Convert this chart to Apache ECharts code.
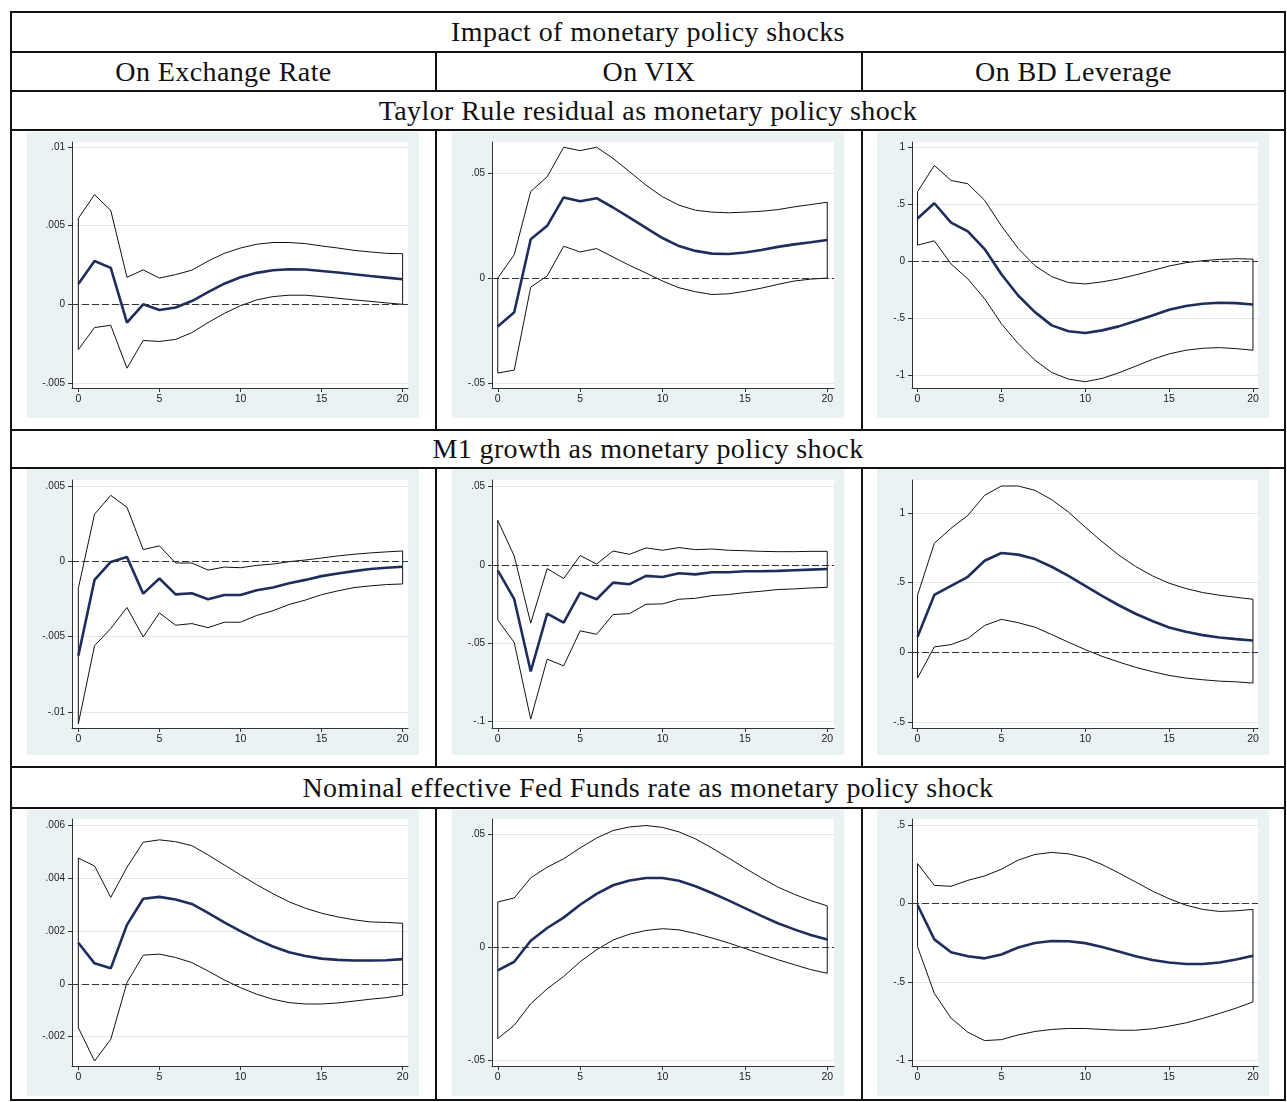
<!DOCTYPE html>
<html>
<head>
<meta charset="utf-8">
<title>Impact of monetary policy shocks</title>
<script src="https://cdn.jsdelivr.net/npm/echarts@6/dist/echarts.min.js"></script>
<style>
    html, body { margin: 0; padding: 0; background: #fff; }
    #page { position: relative; width: 1287px; height: 1102px; overflow: hidden; }
    .hl { position: absolute; height: 2px; background: #111; }
    .vl { position: absolute; width: 2px; background: #111; }
    .cap {
        position: absolute;
        text-align: center;
        font-family: "Liberation Serif", "Times New Roman", serif;
        font-size: 28px;
        letter-spacing: 0.4px;
        color: #111;
        white-space: nowrap;
    }
    .irf { position: absolute; width: 392px; height: 286px; }
</style>
</head>
<body>
<div id="page">
    <!-- table rules -->
    <div class="hl" style="left:10px; top:11px; width:1276px;"></div>
    <div class="hl" style="left:10px; top:51px; width:1276px;"></div>
    <div class="hl" style="left:10px; top:90px; width:1276px;"></div>
    <div class="hl" style="left:10px; top:129px; width:1276px;"></div>
    <div class="hl" style="left:10px; top:429px; width:1276px;"></div>
    <div class="hl" style="left:10px; top:467px; width:1276px;"></div>
    <div class="hl" style="left:10px; top:766px; width:1276px;"></div>
    <div class="hl" style="left:10px; top:807px; width:1276px;"></div>
    <div class="hl" style="left:10px; top:1099px; width:1276px;"></div>
    <div class="vl" style="left:10px; top:11px; height:1090px;"></div>
    <div class="vl" style="left:1284px; top:11px; height:1090px;"></div>

    <div class="vl" style="left:435px; top:51px; height:41px;"></div>
    <div class="vl" style="left:861px; top:51px; height:41px;"></div>
    <div class="vl" style="left:435px; top:129px; height:302px;"></div>
    <div class="vl" style="left:861px; top:129px; height:302px;"></div>
    <div class="vl" style="left:435px; top:467px; height:301px;"></div>
    <div class="vl" style="left:861px; top:467px; height:301px;"></div>
    <div class="vl" style="left:435px; top:807px; height:294px;"></div>
    <div class="vl" style="left:861px; top:807px; height:294px;"></div>

    <!-- captions -->
    <div class="cap" style="left:12px; top:13px; width:1272px; height:38px; line-height:38px;">Impact of monetary policy shocks</div>
    <div class="cap" style="left:12px; top:53px; width:423px; height:37px; line-height:37px;">On Exchange Rate</div>
    <div class="cap" style="left:437px; top:53px; width:424px; height:37px; line-height:37px;">On VIX</div>
    <div class="cap" style="left:863px; top:53px; width:421px; height:37px; line-height:37px;">On BD Leverage</div>
    <div class="cap" style="left:12px; top:92px; width:1272px; height:37px; line-height:37px;">Taylor Rule residual as monetary policy shock</div>
    <div class="cap" style="left:12px; top:431px; width:1272px; height:36px; line-height:36px;">M1 growth as monetary policy shock</div>
    <div class="cap" style="left:12px; top:768px; width:1272px; height:39px; line-height:39px;">Nominal effective Fed Funds rate as monetary policy shock</div>

    <!-- impulse response panels -->
    <div id="p11" class="irf" style="left:27px; top:132px;"></div>
    <div id="p12" class="irf" style="left:452px; top:132px;"></div>
    <div id="p13" class="irf" style="left:877px; top:132px;"></div>
    <div id="p21" class="irf" style="left:27px; top:469px;"></div>
    <div id="p22" class="irf" style="left:452px; top:469px;"></div>
    <div id="p23" class="irf" style="left:877px; top:469px;"></div>
    <div id="p31" class="irf" style="left:27px; top:810px;"></div>
    <div id="p32" class="irf" style="left:452px; top:810px;"></div>
    <div id="p33" class="irf" style="left:877px; top:810px;"></div>
</div>

<script>
    // horizon (steps) and x tick labels
    const horizon = [0, 1, 2, 3, 4, 5, 6, 7, 8, 9, 10, 11, 12, 13, 14, 15, 16, 17, 18, 19, 20];
    const xTicks = [0, 5, 10, 15, 20];

    // Taylor rule residual shock
    const taylorFxIrf = [0.00129, 0.00275, 0.00232, -0.00116, 0.0, -0.00036, -0.0002, 0.00021, 0.00077, 0.00131, 0.00172, 0.002, 0.00217, 0.00223, 0.00221, 0.00212, 0.00202, 0.00191, 0.0018, 0.0017, 0.00159];
    const taylorFxUpper = [0.00547, 0.00697, 0.00597, 0.00172, 0.00219, 0.00167, 0.00189, 0.00217, 0.00275, 0.00324, 0.00358, 0.00382, 0.00393, 0.00393, 0.00386, 0.00371, 0.00358, 0.00343, 0.00333, 0.00324, 0.00322];
    const taylorFxLower = [-0.00288, -0.00148, -0.00133, -0.00406, -0.0023, -0.00236, -0.00223, -0.0018, -0.00116, -0.00058, -0.00009, 0.00028, 0.00049, 0.00058, 0.00058, 0.00049, 0.00039, 0.00028, 0.00019, 0.00009, 0.0];
    const taylorFxTicks = [-0.005, 0, 0.005, 0.01];

    const taylorVixIrf = [-0.023, -0.0162, 0.0184, 0.0248, 0.0383, 0.0365, 0.0379, 0.0335, 0.0287, 0.0238, 0.019, 0.0152, 0.0129, 0.0116, 0.0114, 0.0121, 0.0133, 0.0148, 0.016, 0.017, 0.0181];
    const taylorVixUpper = [0.0, 0.0111, 0.0411, 0.0481, 0.0621, 0.0605, 0.0621, 0.0568, 0.0505, 0.0441, 0.0386, 0.0346, 0.0322, 0.0313, 0.031, 0.0313, 0.0317, 0.0325, 0.0338, 0.0349, 0.036];
    const taylorVixLower = [-0.0451, -0.0437, -0.0043, 0.001, 0.0151, 0.0124, 0.014, 0.01, 0.006, 0.0024, -0.0014, -0.0046, -0.0065, -0.0078, -0.0075, -0.0063, -0.0048, -0.003, -0.0014, -0.0005, 0.0];
    const taylorVixTicks = [-0.05, 0, 0.05];

    const taylorLevIrf = [0.375, 0.509, 0.34, 0.262, 0.108, -0.113, -0.299, -0.445, -0.561, -0.613, -0.628, -0.605, -0.57, -0.523, -0.474, -0.424, -0.392, -0.372, -0.363, -0.366, -0.378];
    const taylorLevUpper = [0.61, 0.84, 0.709, 0.68, 0.535, 0.311, 0.113, -0.038, -0.134, -0.186, -0.198, -0.18, -0.154, -0.119, -0.081, -0.041, -0.012, 0.006, 0.017, 0.023, 0.02];
    const taylorLevLower = [0.142, 0.18, -0.023, -0.154, -0.328, -0.547, -0.721, -0.866, -0.974, -1.032, -1.055, -1.026, -0.977, -0.919, -0.86, -0.811, -0.779, -0.762, -0.756, -0.765, -0.779];
    const taylorLevTicks = [-1, -0.5, 0, 0.5, 1];

    // M1 growth shock
    const m1FxIrf = [-0.00627, -0.00123, -0.00004, 0.00029, -0.00214, -0.00114, -0.00219, -0.00212, -0.00252, -0.00223, -0.00223, -0.00192, -0.00174, -0.00145, -0.00123, -0.00098, -0.0008, -0.00065, -0.00051, -0.00042, -0.00036];
    const m1FxUpper = [-0.00179, 0.00313, 0.00438, 0.00359, 0.00078, 0.00103, -0.00011, -0.00011, -0.00058, -0.00038, -0.00042, -0.00027, -0.00018, -0.00002, 0.00009, 0.00022, 0.00036, 0.00047, 0.00056, 0.00063, 0.00069];
    const m1FxLower = [-0.01078, -0.0056, -0.00446, -0.00306, -0.00502, -0.00342, -0.00424, -0.00413, -0.0044, -0.00404, -0.00404, -0.00359, -0.00328, -0.00286, -0.00257, -0.00221, -0.00196, -0.00174, -0.00163, -0.00154, -0.0015];
    const m1FxTicks = [-0.01, -0.005, 0, 0.005];

    const m1VixIrf = [-0.0034, -0.0219, -0.0681, -0.0311, -0.0368, -0.0177, -0.0219, -0.0113, -0.0123, -0.007, -0.0077, -0.0053, -0.006, -0.0047, -0.0047, -0.004, -0.004, -0.0038, -0.0034, -0.003, -0.0026];
    const m1VixUpper = [0.0285, 0.0057, -0.0372, -0.0023, -0.0087, 0.006, 0.0006, 0.0089, 0.0068, 0.0109, 0.0094, 0.0111, 0.0098, 0.0102, 0.0094, 0.0091, 0.0087, 0.0085, 0.0085, 0.0087, 0.0087];
    const m1VixLower = [-0.0351, -0.0496, -0.0985, -0.0602, -0.0645, -0.0421, -0.0443, -0.0317, -0.0311, -0.0251, -0.0249, -0.0219, -0.0213, -0.0196, -0.0189, -0.0177, -0.0168, -0.0157, -0.0153, -0.0147, -0.0143];
    const m1VixTicks = [-0.1, -0.05, 0, 0.05];

    const m1LevIrf = [0.111, 0.411, 0.476, 0.541, 0.656, 0.712, 0.7, 0.668, 0.613, 0.548, 0.476, 0.404, 0.337, 0.276, 0.224, 0.178, 0.147, 0.123, 0.106, 0.094, 0.084];
    const m1LevUpper = [0.409, 0.781, 0.889, 0.981, 1.125, 1.192, 1.192, 1.161, 1.094, 1.005, 0.897, 0.793, 0.697, 0.615, 0.548, 0.495, 0.457, 0.428, 0.409, 0.394, 0.38];
    const m1LevLower = [-0.185, 0.038, 0.055, 0.099, 0.192, 0.236, 0.212, 0.18, 0.127, 0.072, 0.019, -0.029, -0.07, -0.108, -0.139, -0.166, -0.185, -0.197, -0.207, -0.212, -0.221];
    const m1LevTicks = [-0.5, 0, 0.5, 1];

    // Fed funds rate shock
    const ffrFxIrf = [0.00156, 0.00078, 0.00059, 0.00224, 0.00323, 0.0033, 0.0032, 0.00303, 0.00269, 0.00233, 0.002, 0.00169, 0.00142, 0.0012, 0.00106, 0.00096, 0.00091, 0.00089, 0.00089, 0.0009, 0.00094];
    const ffrFxUpper = [0.00477, 0.00447, 0.00328, 0.00442, 0.00537, 0.00546, 0.00539, 0.00524, 0.00489, 0.00451, 0.00413, 0.00376, 0.00342, 0.00311, 0.00287, 0.00268, 0.00254, 0.00243, 0.00235, 0.00233, 0.0023];
    const ffrFxLower = [-0.00166, -0.00292, -0.0021, 0.00005, 0.00109, 0.00113, 0.001, 0.00081, 0.00049, 0.00015, -0.00014, -0.00039, -0.00058, -0.00071, -0.00076, -0.00076, -0.00072, -0.00065, -0.00058, -0.00052, -0.00043];
    const ffrFxTicks = [-0.002, 0, 0.002, 0.004, 0.006];

    const ffrVixIrf = [-0.0103, -0.0065, 0.0028, 0.0084, 0.013, 0.0187, 0.0235, 0.0273, 0.0294, 0.0305, 0.0305, 0.0293, 0.0269, 0.0239, 0.0206, 0.0172, 0.0138, 0.0105, 0.0078, 0.0053, 0.0033];
    const ffrVixUpper = [0.0199, 0.0217, 0.0306, 0.0353, 0.039, 0.0438, 0.0482, 0.0515, 0.0531, 0.0537, 0.0529, 0.0509, 0.0478, 0.0438, 0.0394, 0.0349, 0.0306, 0.0265, 0.0233, 0.0205, 0.0182];
    const ffrVixLower = [-0.0405, -0.0346, -0.0251, -0.0185, -0.013, -0.0065, -0.0012, 0.0031, 0.0057, 0.0073, 0.0081, 0.0076, 0.006, 0.004, 0.0018, -0.0006, -0.0031, -0.0056, -0.0078, -0.01, -0.0116];
    const ffrVixTicks = [-0.05, 0, 0.05];

    const ffrLevIrf = [-0.01, -0.229, -0.311, -0.337, -0.35, -0.325, -0.281, -0.252, -0.239, -0.241, -0.253, -0.278, -0.307, -0.336, -0.36, -0.376, -0.386, -0.386, -0.376, -0.357, -0.333];
    const ffrLevUpper = [0.254, 0.115, 0.109, 0.147, 0.175, 0.218, 0.276, 0.312, 0.325, 0.316, 0.291, 0.248, 0.194, 0.137, 0.079, 0.03, -0.011, -0.038, -0.051, -0.047, -0.038];
    const ffrLevLower = [-0.276, -0.573, -0.731, -0.821, -0.874, -0.868, -0.838, -0.816, -0.803, -0.797, -0.797, -0.803, -0.808, -0.808, -0.799, -0.782, -0.761, -0.733, -0.701, -0.667, -0.628];
    const ffrLevTicks = [-1, -0.5, 0, 0.5];

    // plot-region placement inside each panel (px) and axis extents
    const colLayout = [
        { left: 45, right: 11, xMin: -0.39, xMax: 20.33 },
        { left: 40, right: 10, xMin: -0.35, xMax: 20.41 },
        { left: 35, right: 11, xMin: -0.33, xMax: 20.3 }
    ];
    const rowLayout = [
        { top: 10, bottom: 30 },
        { top: 11, bottom: 27 },
        { top: 9, bottom: 30 }
    ];

    const panels = [
        { id: 'p11', row: 0, col: 0, irf: taylorFxIrf, hi: taylorFxUpper, lo: taylorFxLower, ticks: taylorFxTicks, yMin: -0.00532, yMax: 0.01032 },
        { id: 'p12', row: 0, col: 1, irf: taylorVixIrf, hi: taylorVixUpper, lo: taylorVixLower, ticks: taylorVixTicks, yMin: -0.0522, yMax: 0.0646 },
        { id: 'p13', row: 0, col: 2, irf: taylorLevIrf, hi: taylorLevUpper, lo: taylorLevLower, ticks: taylorLevTicks, yMin: -1.11, yMax: 1.046 },
        { id: 'p21', row: 1, col: 0, irf: m1FxIrf, hi: m1FxUpper, lo: m1FxLower, ticks: m1FxTicks, yMin: -0.01106, yMax: 0.0054 },
        { id: 'p22', row: 1, col: 1, irf: m1VixIrf, hi: m1VixUpper, lo: m1VixLower, ticks: m1VixTicks, yMin: -0.1042, yMax: 0.0543 },
        { id: 'p23', row: 1, col: 2, irf: m1LevIrf, hi: m1LevUpper, lo: m1LevLower, ticks: m1LevTicks, yMin: -0.543, yMax: 1.235 },
        { id: 'p31', row: 2, col: 0, irf: ffrFxIrf, hi: ffrFxUpper, lo: ffrFxLower, ticks: ffrFxTicks, yMin: -0.00311, yMax: 0.00625 },
        { id: 'p32', row: 2, col: 1, irf: ffrVixIrf, hi: ffrVixUpper, lo: ffrVixLower, ticks: ffrVixTicks, yMin: -0.0526, yMax: 0.0566 },
        { id: 'p33', row: 2, col: 2, irf: ffrLevIrf, hi: ffrLevUpper, lo: ffrLevLower, ticks: ffrLevTicks, yMin: -1.036, yMax: 0.538 }
    ];

    const regionColor = '#eaf2f3';
    const gridColor = '#dfe9ec';
    const axisColor = '#333';
    const labelColor = '#222';
    const navy = '#1f2d5c';

    // stata style numbers: .005, -.05, 0, 1
    function stataFmt(v) {
        if (v === 0) return '0';
        return String(v).replace(/^(-?)0\./, '$1.');
    }

    function drawPanel(p) {
        const col = colLayout[p.col];
        const row = rowLayout[p.row];
        const chart = echarts.init(document.getElementById(p.id));

        // confidence band outline: upper, down at the end, lower back, up at the start
        let band = horizon.map((h, i) => [h, p.hi[i]]);
        for (let i = horizon.length - 1; i >= 0; i--) {
            band.push([horizon[i], p.lo[i]]);
        }
        band.push(band[0]);

        chart.setOption({
            animation: false,
            backgroundColor: regionColor,
            grid: {
                left: col.left, right: col.right, top: row.top, bottom: row.bottom,
                show: true, backgroundColor: '#fff', borderWidth: 0
            },
            xAxis: {
                type: 'value',
                min: col.xMin,
                max: col.xMax,
                axisLine: { onZero: false, lineStyle: { color: axisColor, width: 1 } },
                axisTick: { customValues: xTicks, length: 4, lineStyle: { color: axisColor } },
                axisLabel: {
                    customValues: xTicks, color: labelColor, fontSize: 10.5, margin: 6,
                    fontFamily: '"Liberation Sans", Arial, sans-serif'
                },
                splitLine: { show: false }
            },
            yAxis: {
                type: 'value',
                min: p.yMin,
                max: p.yMax,
                axisLine: { show: true, onZero: false, lineStyle: { color: axisColor, width: 1 } },
                axisTick: { show: true, customValues: p.ticks, length: 4, lineStyle: { color: axisColor } },
                axisLabel: {
                    customValues: p.ticks, color: labelColor, fontSize: 10, margin: 7,
                    fontFamily: '"Liberation Sans", Arial, sans-serif',
                    formatter: stataFmt
                },
                splitLine: { show: true, lineStyle: { color: gridColor, width: 1 } }
            },
            series: [
                {
                    name: 'ci',
                    type: 'line',
                    data: band,
                    symbol: 'none',
                    silent: true,
                    lineStyle: { color: '#111', width: 1 },
                    markLine: {
                        silent: true,
                        symbol: ['none', 'none'],
                        label: { show: false },
                        lineStyle: { color: '#333', width: 1.2, type: [7, 3] },
                        data: [{ yAxis: 0 }]
                    }
                },
                {
                    name: 'irf',
                    type: 'line',
                    data: horizon.map((h, i) => [h, p.irf[i]]),
                    symbol: 'none',
                    silent: true,
                    lineStyle: { color: navy, width: 2.6 }
                }
            ]
        });
    }

    panels.forEach(drawPanel);
</script>
</body>
</html>
